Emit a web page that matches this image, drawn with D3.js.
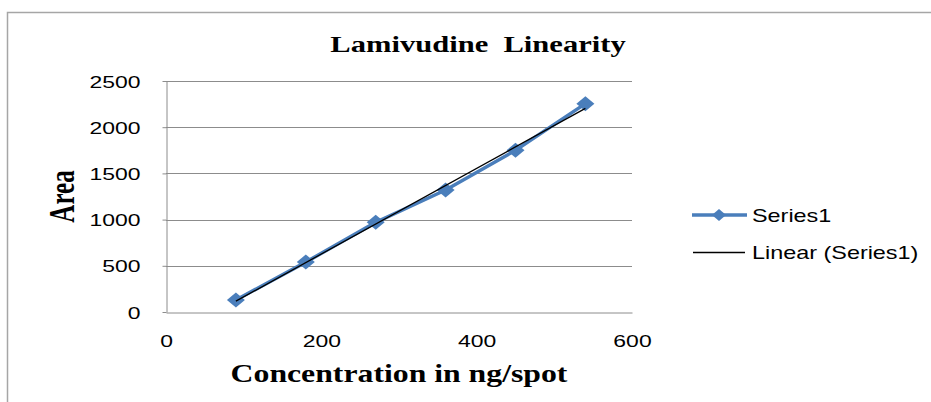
<!DOCTYPE html>
<html>
<head>
<meta charset="utf-8">
<script src="https://cdn.jsdelivr.net/npm/d3@7"></script>
<style>
  body { margin: 0; background: #fff; }
  .sans { font-family: "Liberation Sans", Arial, sans-serif; fill: #000; }
  .serif { font-family: "Liberation Serif", "Times New Roman", serif; font-weight: bold; fill: #000; white-space: pre; }
</style>
</head>
<body>
<div id="chart"></div>
<script>
// data
var concentration = [90, 180, 270, 360, 450, 540];
var area = [130, 540, 970, 1320, 1750, 2255];
var xTicks = [0, 200, 400, 600];
var yTicks = [0, 500, 1000, 1500, 2000, 2500];
var seriesName = "Series1";

// the original picture is stretched sideways, so text gets a horizontal scale
var sx = 1.3;

var width = 931, height = 402;
var plot = {left: 166, right: 632, top: 81, bottom: 312};

var x = d3.scaleLinear().domain([0, 600]).range([plot.left, plot.right]);
var y = d3.scaleLinear().domain([0, 2500]).range([plot.bottom, plot.top]);

var svg = d3.select("#chart").append("svg")
    .attr("width", width)
    .attr("height", height);

// outer chart frame (only top and left are visible)
svg.append("path")
    .attr("d", "M7.5," + height + "V12.5H" + width)
    .attr("fill", "none")
    .attr("stroke", "#a6a6a6")
    .attr("stroke-width", 1.5);

// horizontal gridlines
svg.append("g")
  .selectAll("line")
  .data(yTicks.filter(function(d) { return d > 0; }))
  .enter().append("line")
    .attr("x1", plot.left)
    .attr("x2", plot.right)
    .attr("y1", function(d) { return Math.round(y(d)) + 0.5; })
    .attr("y2", function(d) { return Math.round(y(d)) + 0.5; })
    .attr("stroke", "#8c8c8c");

// y axis
var yAxis = svg.append("g")
    .attr("transform", "translate(" + (plot.left + 0.5) + ",0)")
    .call(d3.axisLeft(y).tickValues(yTicks).tickFormat(d3.format("d")).tickSize(4).tickSizeOuter(0));
yAxis.select(".domain").attr("stroke", "#8c8c8c");
yAxis.selectAll(".tick line").attr("stroke", "#8c8c8c");
yAxis.selectAll("text")
    .attr("class", "sans")
    .attr("x", null)
    .attr("dy", "0.36em")
    .style("font-size", "17px")
    .attr("text-anchor", "end")
    .attr("transform", "translate(-26,0) scale(" + (sx + 0.05) + ",1)");

// x axis
var xAxis = svg.append("g")
    .attr("transform", "translate(0," + (plot.bottom + 0.5) + ")")
    .call(d3.axisBottom(x).tickValues(xTicks).tickFormat(d3.format("d")).tickSize(0).tickSizeOuter(0));
xAxis.select(".domain").attr("stroke", "#8c8c8c");
xAxis.selectAll("text")
    .attr("class", "sans")
    .attr("y", null)
    .attr("dy", "0.36em")
    .style("font-size", "17px")
    .attr("transform", "translate(0,28) scale(" + (sx + 0.05) + ",1)");
svg.selectAll(".tick text").attr("fill", "#000");
svg.selectAll("g").attr("font-family", null).attr("font-size", null);

// linear trendline (least squares on the series)
var mx = d3.mean(concentration), my = d3.mean(area);
var sxy = d3.sum(concentration, function(c, i) { return (c - mx) * (area[i] - my); });
var sxx = d3.sum(concentration, function(c) { return (c - mx) * (c - mx); });
var slope = sxy / sxx, intercept = my - slope * mx;
var x0 = d3.min(concentration), x1 = d3.max(concentration);

var points = concentration.map(function(c, i) { return [c, area[i]]; });

var line = d3.line()
    .x(function(d) { return x(d[0]); })
    .y(function(d) { return y(d[1]); });

svg.append("path")
    .datum(points)
    .attr("d", line)
    .attr("fill", "none")
    .attr("stroke", "#4a7ebb")
    .attr("stroke-width", 3.5)
    .attr("stroke-linejoin", "round");

var diamond = "M0,-7.5L9,0L0,7.5L-9,0Z";
svg.append("g")
  .selectAll("path")
  .data(points)
  .enter().append("path")
    .attr("d", diamond)
    .attr("transform", function(d) { return "translate(" + x(d[0]) + "," + y(d[1]) + ")"; })
    .attr("fill", "#4a7ebb");

svg.append("path")
    .datum([[x0, intercept + slope * x0], [x1, intercept + slope * x1]])
    .attr("d", line)
    .attr("fill", "none")
    .attr("stroke", "#000")
    .attr("stroke-width", 1.3);

// title and axis titles
svg.append("text")
    .attr("class", "serif")
    .attr("text-anchor", "middle")
    .style("font-size", "23.5px")
    .attr("transform", "translate(478,51.5) scale(" + sx + ",1)")
    .text("Lamivudine  Linearity");

svg.append("text")
    .attr("class", "serif")
    .attr("text-anchor", "middle")
    .style("font-size", "25px")
    .attr("transform", "translate(399,381.5) scale(" + (sx - 0.03) + ",1)")
    .text("Concentration in ng/spot");

svg.append("text")
    .attr("class", "serif")
    .attr("text-anchor", "middle")
    .style("font-size", "25px")
    .attr("transform", "translate(74,196.5) scale(" + (sx + 0.1) + ",1) rotate(-90)")
    .text("Area");

// legend
var legend = svg.append("g");
legend.append("line")
    .attr("x1", 692).attr("x2", 747)
    .attr("y1", 215).attr("y2", 215)
    .attr("stroke", "#4a7ebb")
    .attr("stroke-width", 3.5);
legend.append("path")
    .attr("d", "M0,-6L7,0L0,6L-7,0Z")
    .attr("transform", "translate(719,215)")
    .attr("fill", "#4a7ebb");
legend.append("text")
    .attr("class", "sans")
    .style("font-size", "18px")
    .attr("dy", "0.36em")
    .attr("transform", "translate(752,216) scale(" + sx + ",1)")
    .text(seriesName);

legend.append("line")
    .attr("x1", 693).attr("x2", 745)
    .attr("y1", 252.5).attr("y2", 252.5)
    .attr("stroke", "#000")
    .attr("stroke-width", 1.3);
legend.append("text")
    .attr("class", "sans")
    .style("font-size", "18px")
    .attr("dy", "0.36em")
    .attr("transform", "translate(752,253) scale(" + sx + ",1)")
    .text("Linear (" + seriesName + ")");
</script>
</body>
</html>
